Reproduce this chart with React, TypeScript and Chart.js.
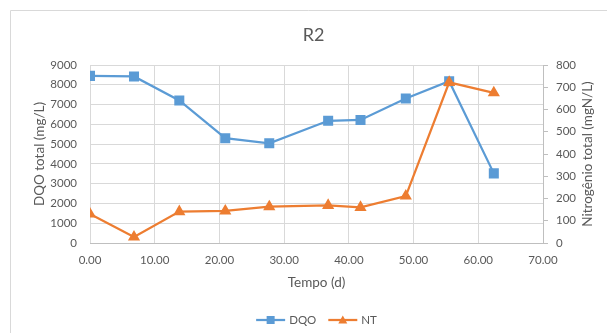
import { useEffect, useRef } from "react";
import { Chart, registerables } from "chart.js";

Chart.register(...registerables);

// Sampling days and measured values
const days = [0, 6.8, 13.8, 20.9, 27.7, 36.8, 41.8, 48.8, 55.5, 62.4];
const dqo = [8450, 8420, 7210, 5300, 5040, 6180, 6220, 7310, 8180, 3520];
const nt = [130, 27, 141, 144, 163, 169, 160, 211, 722, 675];

const seriesNames = ["DQO", "NT"];
const seriesColors = ["#5B9BD5", "#ED7D31"];

const chartTitle = "R2";
const xTitle = "Tempo (d)";
const leftTitle = "DQO total (mg/L)";
const rightTitle = "Nitrogênio total (mgN/L)";

const FONT = "Lato, 'Open Sans', sans-serif";
const TEXT = "#595959";
const GRID = "#d9d9d9";
const AXIS = "#bfbfbf";

// Frame, title, upward-reading secondary axis title and line+marker legend
const decorations = {
  id: "decorations",
  beforeDraw(chart: any) {
    const { ctx } = chart;
    ctx.save();
    ctx.strokeStyle = GRID;
    ctx.lineWidth = 1;
    ctx.beginPath();
    ctx.moveTo(10.5, chart.height);
    ctx.lineTo(10.5, 10.5);
    ctx.lineTo(chart.width, 10.5);
    ctx.stroke();
    ctx.restore();
  },
  afterDraw(chart: any) {
    const { ctx, chartArea } = chart;
    const y2 = chart.scales.y2;

    // chart title
    ctx.save();
    ctx.fillStyle = TEXT;
    ctx.font = `18px ${FONT}`;
    ctx.textAlign = "center";
    ctx.textBaseline = "middle";
    ctx.fillText(chartTitle, 313.5, 35.5);
    ctx.restore();

    ctx.save();
    ctx.fillStyle = TEXT;
    ctx.font = `13.5px ${FONT}`;
    ctx.textAlign = "center";
    ctx.textBaseline = "middle";
    ctx.translate(y2.right - 19, (chartArea.top + chartArea.bottom) / 2);
    ctx.rotate(-Math.PI / 2);
    ctx.fillText(rightTitle, 0, 0);
    ctx.restore();

    // legend
    ctx.save();
    ctx.font = `11.5px ${FONT}`;
    ctx.textBaseline = "middle";
    ctx.textAlign = "left";
    const lineLen = 29;
    const gapText = 4;
    const gapItem = 12;
    const widths = seriesNames.map((n) => ctx.measureText(n).width);
    const total =
      widths.reduce((a: number, w: number) => a + lineLen + gapText + w, 0) +
      gapItem * (seriesNames.length - 1);
    let x = (chartArea.left + chartArea.right) / 2 - total / 2;
    const y = 320;
    seriesNames.forEach((name, i) => {
      const c = seriesColors[i];
      ctx.strokeStyle = c;
      ctx.fillStyle = c;
      ctx.lineWidth = 2.25;
      ctx.beginPath();
      ctx.moveTo(x, y);
      ctx.lineTo(x + lineLen, y);
      ctx.stroke();
      const mx = x + lineLen / 2;
      if (i === 0) {
        ctx.fillRect(mx - 4, y - 4, 8, 8);
      } else {
        ctx.beginPath();
        ctx.moveTo(mx, y - 4.5);
        ctx.lineTo(mx + 4.5, y + 3.5);
        ctx.lineTo(mx - 4.5, y + 3.5);
        ctx.closePath();
        ctx.fill();
      }
      ctx.fillStyle = TEXT;
      ctx.fillText(name, x + lineLen + gapText, y);
      x += lineLen + gapText + widths[i] + gapItem;
    });
    ctx.restore();
  },
};

export default function App() {
  const ref = useRef<HTMLCanvasElement>(null);

  useEffect(() => {
    const tickFont = { family: FONT, size: 11.5 };
    const titleFont = { family: FONT, size: 13.5 };
    const chart = new Chart(ref.current!, {
      type: "line",
      data: {
        datasets: [
          {
            label: seriesNames[0],
            data: days.map((d, i) => ({ x: d, y: dqo[i] })),
            yAxisID: "y",
            borderColor: seriesColors[0],
            backgroundColor: seriesColors[0],
            pointBackgroundColor: seriesColors[0],
            pointBorderColor: seriesColors[0],
            pointStyle: "rect",
            pointRadius: 5.5,
            borderWidth: 2.25,
            tension: 0,
            order: 2,
          },
          {
            label: seriesNames[1],
            data: days.map((d, i) => ({ x: d, y: nt[i] })),
            yAxisID: "y2",
            borderColor: seriesColors[1],
            backgroundColor: seriesColors[1],
            pointBackgroundColor: seriesColors[1],
            pointBorderColor: seriesColors[1],
            pointStyle: "triangle",
            pointRadius: 4.8,
            borderWidth: 2.25,
            tension: 0,
            order: 1,
          },
        ],
      },
      options: {
        animation: false,
        responsive: false,
        layout: { padding: { left: 0, right: 0, top: 65, bottom: 40 } },
        plugins: {
          legend: { display: false },
          tooltip: { enabled: false },
          title: { display: false },
        },
        scales: {
          x: {
            type: "linear",
            min: 0,
            max: 70,
            ticks: {
              stepSize: 10,
              color: TEXT,
              font: tickFont,
              padding: 10.8,
              maxRotation: 0,
              callback: (v: any) => Number(v).toFixed(2),
            },
            grid: { color: GRID, drawTicks: false },
            border: { display: true, color: AXIS },
            title: {
              display: true,
              text: xTitle,
              color: TEXT,
              font: titleFont,
              padding: { top: 0, bottom: 2.2 },
            },
            afterFit: (s: any) => {
              s.height = 50;
            },
          },
          y: {
            position: "left",
            min: 0,
            max: 9000,
            ticks: {
              stepSize: 1000,
              color: TEXT,
              font: tickFont,
              padding: 13,
              callback: (v: any) => String(v),
            },
            grid: { color: GRID, drawTicks: false },
            border: { display: false },
            title: {
              display: true,
              text: leftTitle,
              color: TEXT,
              font: titleFont,
              padding: { top: 31.8, bottom: 0 },
            },
            afterFit: (s: any) => {
              s.width = 90;
            },
          },
          y2: {
            position: "right",
            min: 0,
            max: 800,
            ticks: {
              stepSize: 100,
              color: TEXT,
              font: tickFont,
              padding: 8,
              callback: (v: any) => String(v),
            },
            grid: { drawOnChartArea: false, drawTicks: true, tickLength: 5, color: AXIS },
            border: { display: true, color: AXIS },
            afterFit: (s: any) => {
              s.width = 64;
            },
          },
        },
      },
      plugins: [decorations],
    } as any);
    return () => chart.destroy();
  }, []);

  return (
    <div
      style={{
        position: "absolute",
        left: 0,
        top: 0,
        width: 607,
        height: 333,
        background: "#fff",
      }}
    >
      <canvas
        ref={ref}
        width={607}
        height={333}
        style={{ display: "block", width: 607, height: 333 }}
      />
    </div>
  );
}
